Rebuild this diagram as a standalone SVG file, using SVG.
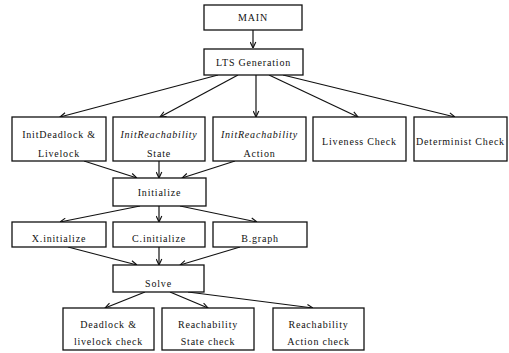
<svg xmlns="http://www.w3.org/2000/svg" width="509" height="353" viewBox="0 0 509 353">
<style>
.box{fill:#fff;stroke:#111;stroke-width:1.3}
.t{font-family:"Liberation Serif","Times New Roman",serif;font-size:10px;letter-spacing:0.8px;fill:#111;text-anchor:middle}
.i{font-style:italic}
.c{fill:none;stroke:#111;stroke-width:1.2;marker-end:url(#ah)}
</style>
<defs>
<marker id="ah" viewBox="0 0 10 10" refX="9.5" refY="5" markerWidth="7" markerHeight="7" markerUnits="userSpaceOnUse" orient="auto">
<path d="M1,1 L9.5,5 L1,9" fill="none" stroke="#111" stroke-width="1.6"/>
</marker>
</defs>
<rect width="509" height="353" fill="#fff"/>
<g id="connectors">
<line class="c" x1="253" y1="30" x2="253" y2="48"/>
<line class="c" x1="218" y1="75" x2="60" y2="117"/>
<line class="c" x1="238" y1="75" x2="160" y2="117"/>
<line class="c" x1="256" y1="75" x2="256" y2="117"/>
<line class="c" x1="269" y1="75" x2="358" y2="117"/>
<line class="c" x1="283" y1="75" x2="455" y2="117"/>
<line class="c" x1="84" y1="161" x2="137" y2="178"/>
<line class="c" x1="159" y1="161" x2="159" y2="178"/>
<line class="c" x1="235" y1="161" x2="182" y2="178"/>
<line class="c" x1="140" y1="206" x2="60" y2="222"/>
<line class="c" x1="159" y1="206" x2="159" y2="222"/>
<line class="c" x1="180" y1="206" x2="257" y2="222"/>
<line class="c" x1="68" y1="247" x2="137" y2="265"/>
<line class="c" x1="159" y1="247" x2="159" y2="265"/>
<line class="c" x1="240" y1="247" x2="180" y2="265"/>
<line class="c" x1="145" y1="292" x2="105" y2="308"/>
<line class="c" x1="170" y1="292" x2="208" y2="308"/>
<line class="c" x1="188" y1="292" x2="313" y2="308"/>
</g>
<g id="main"><rect class="box" x="204" y="5" width="98" height="25"/><text class="t" x="253" y="21">MAIN</text></g>
<g id="lts"><rect class="box" x="204" y="49" width="99" height="26"/><text class="t" x="253.5" y="66">LTS Generation</text></g>
<g id="initdeadlock"><rect class="box" x="12" y="117" width="94" height="44"/><text class="t" x="59" y="138">InitDeadlock &amp;</text><text class="t" x="59" y="157">Livelock</text></g>
<g id="initreachstate"><rect class="box" x="113" y="117" width="92" height="44"/><text class="t i" x="159" y="138">InitReachability</text><text class="t" x="159" y="157">State</text></g>
<g id="initreachaction"><rect class="box" x="213" y="117" width="93" height="44"/><text class="t i" x="259.5" y="138">InitReachability</text><text class="t" x="259.5" y="157">Action</text></g>
<g id="liveness"><rect class="box" x="313" y="117" width="93" height="44"/><text class="t" x="359.5" y="145">Liveness Check</text></g>
<g id="determinist"><rect class="box" x="414" y="117" width="93" height="44"/><text class="t" x="460.5" y="145">Determinist Check</text></g>
<g id="initialize"><rect class="box" x="113" y="178" width="93" height="28"/><text class="t" x="159.5" y="196">Initialize</text></g>
<g id="xinit"><rect class="box" x="12" y="222" width="94" height="25"/><text class="t" x="59" y="242">X.initialize</text></g>
<g id="cinit"><rect class="box" x="113" y="222" width="92" height="25"/><text class="t" x="159" y="242">C.initialize</text></g>
<g id="bgraph"><rect class="box" x="213" y="222" width="94" height="25"/><text class="t" x="260" y="242">B.graph</text></g>
<g id="solve"><rect class="box" x="113" y="265" width="91" height="27"/><text class="t" x="158.5" y="287">Solve</text></g>
<g id="deadlockcheck"><rect class="box" x="63" y="308" width="91" height="42"/><text class="t" x="108.5" y="328">Deadlock &amp;</text><text class="t" x="108.5" y="345">livelock check</text></g>
<g id="reachstatecheck"><rect class="box" x="162" y="308" width="92" height="42"/><text class="t" x="208" y="328">Reachability</text><text class="t" x="208" y="345">State check</text></g>
<g id="reachactioncheck"><rect class="box" x="273" y="308" width="91" height="42"/><text class="t" x="318.5" y="328">Reachability</text><text class="t" x="318.5" y="345">Action check</text></g>
</svg>
